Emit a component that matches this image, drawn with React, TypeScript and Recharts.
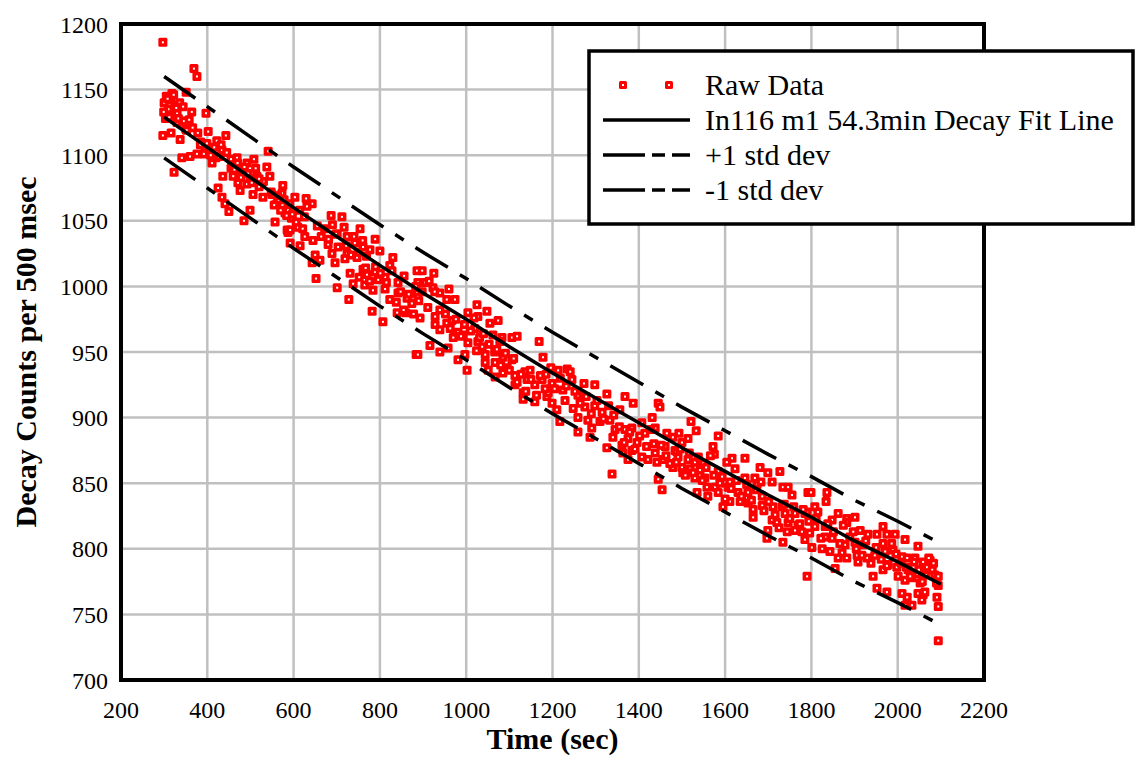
import {
  ComposedChart,
  Scatter,
  XAxis,
  YAxis,
  CartesianGrid,
  ReferenceArea,
  Legend,
} from 'recharts'

// raw decay counts (time in sec, counts per 500 msec)
const rawTime = [
  297, 369, 376, 351, 300, 305, 310, 315, 320, 325, 330, 303, 318, 336, 344, 364, 397, 297, 316, 337,
  355, 378, 402, 422, 443, 341, 360, 376, 323, 411, 434, 445, 469, 492, 508, 541, 538, 545, 436, 460,
  471, 492, 515, 575, 573, 425, 434, 450, 441, 499, 485, 476, 506, 529, 557, 561, 587, 587, 585, 330,
  350, 385, 395, 405, 420, 455, 480, 500, 520, 530, 550, 565, 580, 595,
  603, 629, 643, 631, 587, 687, 712, 717, 754, 740, 724, 701, 789, 610, 592, 626, 645, 592, 615, 680,
  703, 724, 761, 777, 800, 830, 650, 643, 661, 689, 696, 719, 747, 770, 761, 789, 812, 823, 856, 886,
  731, 652, 701, 738, 765, 796, 784, 812, 842, 842, 823, 863, 874, 886, 728, 782, 807, 840, 860, 884,
  898, 925, 888, 905, 923, 939, 960, 955, 974, 888, 911, 893, 928, 939, 928, 939, 955, 967, 981, 1004,
  1025, 1027, 1020, 1048, 1074, 1055, 993, 970, 1004, 1027, 1037, 1062, 1083, 1106, 1118, 1169, 888, 916, 939, 958,
  981, 997, 1002, 1044, 1044, 1067, 1085, 1106, 1051, 1067, 1085, 1095, 1113, 1136, 1148, 1113, 1132, 1141, 1159, 1176,
  1178, 1132, 1159, 1187,
  1213, 1234, 1245, 1273, 1298, 1199, 1190, 1224, 1259, 1326, 1368, 1387, 1445, 1449, 1199, 1229, 1248, 1275, 1210, 1298,
  1315, 1356, 1259, 1282, 1310, 1333, 1217, 1345, 1259, 1291, 1287, 1340, 1368, 1384, 1407, 1431, 1414, 1375, 1396, 1361,
  1438, 1465, 1479, 1461, 1484, 1438, 1456, 1479, 1384, 1407, 1363, 1375, 1421, 1326, 1338, 1445, 1454,
  1521, 1533, 1584, 1493, 1514, 1500, 1572, 1575, 1646, 1616, 1604, 1623, 1491, 1514, 1530, 1500, 1519, 1549, 1542, 1502,
  1530, 1553, 1584, 1593, 1681, 1699, 1727, 1646, 1669, 1611, 1607, 1709, 1674, 1734, 1746, 1755, 1792, 1535, 1558, 1577,
  1560, 1584, 1630, 1653, 1686, 1595, 1611, 1635, 1653, 1686, 1665, 1665, 1711, 1732, 1739, 1762, 1785, 1709, 1720, 1746,
  1769, 1699, 1744, 1762, 1778, 1697, 1734, 1785,
  1799, 1836, 1834, 1808, 1815, 1790, 1862, 1882, 1901, 1848, 1832, 1808, 1882, 1966, 1913, 1931, 1952, 1975, 1994, 2017,
  1966, 2047, 1832, 1848, 1801, 1825, 1843, 1878, 1901, 1920, 1871, 1862, 1882, 1906, 1908, 1929, 1947, 1971, 1989, 2010,
  2022, 2040, 2059, 2075, 1978, 1998, 2024, 2045, 2068, 2080, 2086, 2094, 2094, 1966, 2001, 2017, 2033, 2052, 2047, 2059,
  2063, 2091, 2056, 2094, 2010, 2022, 2017, 2033, 1943, 1952, 1975, 1855, 1790, 2094,
  // dense clusters along the fit line
  299, 308, 312, 322, 328, 333, 346, 352, 358, 366, 384, 392, 399, 408, 416, 427, 432,
  455, 463, 470, 478, 486, 494, 503, 512, 520, 548, 555, 563, 570, 578, 584, 591,
  597, 606, 614, 621, 625, 655, 664, 672, 681, 690, 698, 722, 733, 742, 751, 760, 769,
  752, 767, 776, 790, 801, 815, 828, 838, 848, 855, 867, 878, 890,
  883, 898, 914, 927, 952, 963, 976, 988, 996, 1010, 1018, 1031, 1024, 1040, 1053, 1066, 1078,
  1071, 1080, 1091, 1100, 1110, 1118, 1127, 1138, 1150, 1163, 1172, 1183,
  1185, 1196, 1205, 1218, 1232, 1241, 1252, 1264, 1278, 1290, 1303, 1318, 1330, 1342,
  1355, 1366, 1379, 1391, 1402, 1418, 1428, 1435, 1442, 1452, 1463, 1472, 1488,
  1487, 1496, 1508, 1517, 1526, 1538, 1547, 1556, 1566, 1574,
  1588, 1600, 1614, 1626, 1638, 1650, 1661, 1672, 1683,
  1690, 1701, 1716, 1725, 1737, 1750, 1759, 1773, 1781, 1794,
  1796, 1811, 1822, 1838, 1851, 1866, 1874, 1889, 1897,
  1904, 1917, 1926, 1938, 1950, 1962, 1975, 1986, 1996, 2008,
  2020, 2029, 2038, 2049, 2057, 2065, 2072, 2083, 2090,
]
const rawCounts = [
  1186, 1166, 1160, 1148, 1140, 1145, 1135, 1142, 1130, 1138, 1132, 1128, 1147, 1140, 1137, 1133, 1132, 1115, 1117, 1112,
  1123, 1117, 1118, 1111, 1115, 1098, 1099, 1101, 1087, 1094, 1104, 1102, 1098, 1094, 1097, 1103, 1091, 1084, 1084, 1084,
  1079, 1078, 1084, 1077, 1071, 1075, 1068, 1057, 1063, 1058, 1050, 1073, 1070, 1068, 1049, 1063, 1061, 1041, 1043, 1125,
  1120, 1110, 1106, 1103, 1098, 1090, 1088, 1082, 1076, 1080, 1070, 1066, 1056, 1052,
  1068, 1067, 1063, 1061, 1058, 1054, 1053, 1045, 1044, 1038, 1038, 1040, 1036, 1045, 1043, 1038, 1035, 1033, 1031, 1032,
  1030, 1025, 1030, 1028, 1027, 1022, 1024, 1018, 1020, 1025, 1018, 1021, 1022, 1009, 1013, 1011, 1007, 1016, 1008, 1012,
  1010, 1006, 999, 1002, 1001, 1005, 997, 998, 1003, 995, 990, 991, 987, 995, 990, 981, 973, 980, 980, 948,
  1012, 1010, 1003, 1003, 999, 995, 998, 990, 990, 992, 984, 976, 977, 982, 971, 967, 972, 974, 965, 980,
  986, 977, 968, 981, 974, 972, 963, 961, 957, 958, 954, 963, 961, 961, 962, 958, 948, 955, 950, 953,
  944, 948, 936, 948, 942, 942, 946, 944, 936, 931, 934, 938, 932, 935, 936, 925, 919, 929, 925, 929,
  946, 914, 912, 916,
  936, 937, 929, 926, 925, 926, 919, 921, 917, 918, 916, 911, 911, 908, 911, 913, 907, 908, 906, 909,
  904, 906, 900, 898, 897, 898, 897, 891, 889, 892, 885, 885, 891, 892, 896, 900, 888, 884, 881, 879,
  892, 888, 885, 878, 875, 873, 868, 862, 875, 870, 873, 868, 868, 877, 857, 853, 845,
  897, 890, 886, 888, 884, 881, 878, 872, 869, 869, 866, 861, 870, 868, 866, 862, 861, 865, 860, 858,
  854, 854, 859, 855, 862, 858, 859, 854, 854, 851, 847, 851, 849, 847, 847, 841, 843, 843, 847, 847,
  840, 843, 843, 843, 840, 832, 836, 836, 835, 833, 830, 824, 832, 832, 827, 827, 827, 822, 820, 820,
  818, 814, 813, 814, 813, 808, 805, 807,
  843, 843, 836, 832, 828, 828, 827, 823, 824, 822, 817, 817, 820, 817, 814, 811, 811, 811, 811, 807,
  804, 802, 809, 808, 801, 800, 798, 803, 805, 803, 797, 793, 793, 795, 790, 793, 795, 798, 799, 794,
  793, 793, 790, 791, 788, 786, 784, 781, 786, 784, 780, 779, 772, 784, 779, 776, 778, 774, 766, 765,
  767, 763, 761, 756, 766, 763, 757, 757, 779, 770, 767, 785, 779, 730,
  // dense clusters along the fit line
  1133, 1143, 1129, 1146, 1136, 1128, 1126, 1119, 1127, 1121, 1108, 1101, 1109, 1100, 1106, 1099, 1108,
  1097, 1089, 1094, 1083, 1091, 1086, 1079, 1090, 1082, 1072, 1062, 1069, 1058, 1066, 1054, 1063,
  1055, 1049, 1058, 1044, 1053, 1046, 1038, 1044, 1036, 1047, 1040, 1031, 1024, 1033, 1026, 1035, 1023,
  1007, 1014, 1004, 1015, 1010, 1003, 1012, 988, 996, 982, 994, 979, 989,
  1000, 996, 1004, 996, 979, 968, 975, 962, 971, 966, 976, 961, 951, 964, 956, 950, 958,
  952, 940, 949, 936, 945, 927, 933, 920, 929, 917, 932, 922,
  933, 938, 922, 930, 924, 935, 920, 911, 916, 903, 913, 899, 909, 902,
  893, 881, 889, 876, 886, 878, 891, 880, 866, 879, 871, 865, 874,
  866, 876, 856, 873, 858, 870, 852, 862, 871, 856,
  850, 838, 846, 852, 840, 849, 837, 845, 851,
  829, 836, 826, 816, 834, 823, 832, 819, 830, 821,
  812, 823, 808, 819, 813, 804, 818, 809, 813,
  800, 795, 806, 789, 801, 792, 787, 804, 796, 789,
  786, 779, 790, 784, 775, 780, 793, 789, 774,
]

// fitted decay curve and the +/- 1 std dev band
const fitTime = [300, 400, 500, 600, 700, 800, 900, 1000, 1100, 1200, 1300, 1400, 1500, 1600, 1700, 1800, 1900, 2000, 2100]
const fitCounts = [1129, 1106, 1083, 1060, 1038, 1016, 995, 975, 954, 934, 915, 896, 877, 859, 841, 824, 806, 790, 773]
const upperCounts = [1160, 1137, 1114, 1091, 1069, 1047, 1026, 1006, 985, 965, 946, 927, 908, 890, 872, 855, 837, 821, 804]
const lowerCounts = [1098, 1075, 1052, 1029, 1007, 985, 964, 944, 923, 903, 884, 865, 846, 828, 810, 793, 775, 759, 742]

const xTicks = [200, 400, 600, 800, 1000, 1200, 1400, 1600, 1800, 2000, 2200]
const yTicks = [700, 750, 800, 850, 900, 950, 1000, 1050, 1100, 1150, 1200]

const rawData = rawTime.map((t, i) => ({ t, v: rawCounts[i] }))
const fitData = fitTime.map((t, i) => ({ t, v: fitCounts[i] }))
const upperData = fitTime.map((t, i) => ({ t, v: upperCounts[i] }))
const lowerData = fitTime.map((t, i) => ({ t, v: lowerCounts[i] }))

const FONT = '"Liberation Serif", "Times New Roman", serif'
const DASH = '38 14 10 14'

// red square marker with a small white centre; `side` is the edge length in px
const RedSquare = (props: any) => {
  const { cx, cy, side = 9 } = props
  if (cx == null || cy == null) return <g />
  const h = side / 2
  return (
    <g>
      <rect x={cx - h} y={cy - h} width={side} height={side} rx={1.5} fill="#ff0000" />
      <rect x={cx - 1} y={cy - 1} width={2} height={2} fill="#ffffff" />
    </g>
  )
}

const NoDot = () => <g />

const renderLegend = () => (
  <svg width={548} height={177} style={{ display: 'block' }}>
    <rect x={2} y={2} width={544} height={173} fill="#fff" stroke="#000" strokeWidth={3.5} />
    <g fontFamily={FONT} fontSize={30} fill="#000">
      <RedSquare cx={36} cy={36} side={8} />
      <RedSquare cx={82} cy={36} side={8} />
      <text x={118} y={46}>Raw Data</text>
      <line x1={16} x2={103} y1={71} y2={71} stroke="#000" strokeWidth={3.5} />
      <text x={118} y={81}>In116 m1 54.3min Decay Fit Line</text>
      <line x1={16} x2={103} y1={106} y2={106} stroke="#000" strokeWidth={3.5} strokeDasharray="42 7 13 7" />
      <text x={118} y={116}>+1 std dev</text>
      <line x1={16} x2={103} y1={141} y2={141} stroke="#000" strokeWidth={3.5} strokeDasharray="42 7 13 7" />
      <text x={118} y={151}>-1 std dev</text>
    </g>
  </svg>
)

export default function App() {
  return (
    <div
      style={{
        position: 'absolute',
        left: 0,
        top: 0,
        width: 1138,
        height: 757,
        background: '#fff',
        fontFamily: FONT,
      }}
    >
      <ComposedChart width={1138} height={757} margin={{ top: 24, right: 154, bottom: 0, left: 0 }}>
        <CartesianGrid stroke="#c0c0c0" strokeWidth={2.5} />
        <XAxis
          type="number"
          dataKey="t"
          domain={[200, 2200]}
          ticks={xTicks}
          interval={0}
          height={77}
          axisLine={false}
          tickLine={false}
          tickSize={6}
          tickMargin={15}
          tick={{ fontSize: 24, fill: '#000', fontFamily: FONT }}
          label={{
            value: 'Time (sec)',
            position: 'insideBottom',
            offset: 8,
            style: { fontSize: 30, fontWeight: 'bold', fill: '#000', fontFamily: FONT },
          }}
        />
        <YAxis
          type="number"
          dataKey="v"
          domain={[700, 1200]}
          ticks={yTicks}
          interval={0}
          width={121}
          axisLine={false}
          tickLine={false}
          tickSize={6}
          tickMargin={7}
          tick={{ fontSize: 24, fill: '#000', fontFamily: FONT }}
          label={{
            value: 'Decay Counts per 500 msec',
            angle: -90,
            position: 'insideLeft',
            offset: 25,
            style: { fontSize: 30, fontWeight: 'bold', fill: '#000', fontFamily: FONT, textAnchor: 'middle' },
          }}
        />
        <ReferenceArea x1={200} x2={2200} y1={700} y2={1200} fill="none" stroke="#000" strokeWidth={4} />
        <Scatter name="Raw Data" data={rawData} shape={RedSquare} isAnimationActive={false} />
        <Scatter
          name="In116 m1 54.3min Decay Fit Line"
          data={fitData}
          shape={NoDot}
          line={{ stroke: '#000', strokeWidth: 3.5 }}
          isAnimationActive={false}
        />
        <Scatter
          name="+1 std dev"
          data={upperData}
          shape={NoDot}
          line={{ stroke: '#000', strokeWidth: 3.5, strokeDasharray: DASH }}
          isAnimationActive={false}
        />
        <Scatter
          name="-1 std dev"
          data={lowerData}
          shape={NoDot}
          line={{ stroke: '#000', strokeWidth: 3.5, strokeDasharray: DASH }}
          isAnimationActive={false}
        />
        <Legend
          layout="horizontal"
          verticalAlign="middle"
          align="center"
          content={renderLegend}
          wrapperStyle={{ left: 587, top: 49, width: 548, height: 177 }}
        />
      </ComposedChart>
    </div>
  )
}
